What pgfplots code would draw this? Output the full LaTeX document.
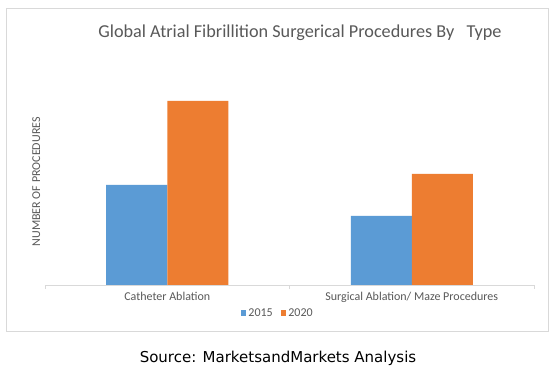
\documentclass[border=0pt]{standalone}
\usepackage{fontspec}
\setmainfont{Carlito}
\newfontfamily\dejavu{DejaVu Sans}
\usepackage{pgfplots}
\pgfplotsset{compat=1.18}
\definecolor{cblue}{HTML}{5B9BD5}
\definecolor{corange}{HTML}{ED7D31}
\definecolor{txtgray}{HTML}{595959}
\definecolor{linegray}{HTML}{D9D9D9}
\begin{document}
\begin{tikzpicture}[x=1pt,y=1pt]
\useasboundingbox (0,0) rectangle (555,371);
\fill[white] (0,0) rectangle (555,371);
\draw[linegray] (6,363) rectangle (548,40);
\node[txtgray,font=\fontsize{18.2}{20}\selectfont] at (300,338) {Global Atrial Fibrillition Surgerical Procedures By\ \ \ Type};
\node[black,font=\dejavu\fontsize{15}{17}\selectfont] at (278,12.5) {Source: MarketsandMarkets Analysis};
\begin{axis}[
  at={(45pt,86pt)}, anchor=south west,
  scale only axis, width=489pt, height=215pt,
  ybar=0pt, bar width=61pt,
  xmin=0, xmax=2, ymin=0, ymax=215,
  axis x line=bottom, axis y line=left,
  axis line style={-, draw=linegray},
  y axis line style={draw=none},
  ytick=\empty,
  xtick={0.5,1.5},
  xticklabels={Catheter Ablation, Surgical Ablation/ Maze Procedures},
  major tick length=0pt,
  xticklabel style={font=\fontsize{12}{14}\selectfont, text=txtgray, yshift=-4pt},
  extra x ticks={0,1,2}, extra x tick labels={},
  extra x tick style={major tick length=4pt, tick align=outside, tick style={draw=linegray}},
  ylabel={NUMBER OF PROCEDURES},
  ylabel style={at={(axis description cs:-0.018,0.48)}, anchor=center, font=\fontsize{12}{14}\selectfont, text=txtgray},
  legend style={at={(0.476,-0.13)}, anchor=center, draw=none, font=\fontsize{12}{14}\selectfont, text=txtgray, legend columns=2, /tikz/every even column/.append style={column sep=6pt}},
  legend image code/.code={\fill[#1] (0pt,-2.8pt) rectangle (5.6pt,2.8pt);},
]
\addplot[fill=cblue, draw=none] coordinates {(0.5,100) (1.5,69)};
\addplot[fill=corange, draw=none] coordinates {(0.5,184) (1.5,111)};
\legend{2015,2020}
\end{axis}
\end{tikzpicture}
\end{document}
